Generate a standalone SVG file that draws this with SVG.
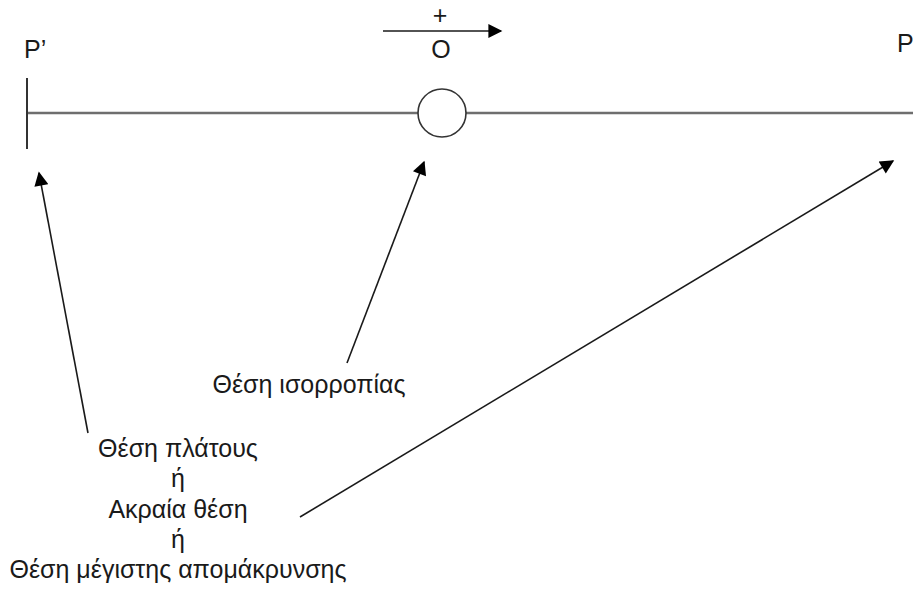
<svg xmlns="http://www.w3.org/2000/svg" width="913" height="589" viewBox="0 0 913 589">
<defs>
<style>
text{font-family:"Liberation Sans",Arial,sans-serif;font-size:25px;fill:#1a1a1a}
.c{text-anchor:middle}
.ar{stroke:#1a1a1a;stroke-width:1.6;fill:none}
</style>
<marker id="ah2" viewBox="0 0 10 10" refX="9" refY="5" markerWidth="18" markerHeight="14" markerUnits="userSpaceOnUse" orient="auto">
<path d="M0,0 L10,5 L0,10 z" fill="#000"/>
</marker>
</defs>
<rect width="913" height="589" fill="#fff"/>
<g id="axis">
<line x1="27" y1="113" x2="913" y2="113" stroke="#6e6e6e" stroke-width="2.5"/>
<line x1="27" y1="78" x2="27" y2="149" stroke="#333" stroke-width="2"/>
</g>
<g id="ball">
<circle cx="442" cy="113" r="24" fill="#fff" stroke="#333" stroke-width="1.6"/>
</g>
<g id="labels">
<text x="24" y="58">P’</text>
<text x="897" y="52">P</text>
<text class="c" x="440" y="24">+</text>
<text class="c" x="441" y="58">O</text>
<text class="c" x="309" y="393">Θέση ισορροπίας</text>
<text class="c" x="178" y="457">Θέση πλάτους</text>
<text class="c" x="178" y="487">ή</text>
<text class="c" x="178" y="518">Ακραία θέση</text>
<text class="c" x="178" y="548">ή</text>
<text class="c" x="178" y="578">Θέση μέγιστης απομάκρυνσης</text>
</g>
<g id="connectors">
<line x1="383" y1="31" x2="501" y2="31" stroke="#1a1a1a" stroke-width="1.6" marker-end="url(#ah2)"/>
<line class="ar" x1="88" y1="433" x2="39" y2="173" marker-end="url(#ah2)"/>
<line class="ar" x1="347" y1="363" x2="424" y2="162" marker-end="url(#ah2)"/>
<line class="ar" x1="300" y1="517" x2="893" y2="161" marker-end="url(#ah2)"/>
</g>
</svg>
